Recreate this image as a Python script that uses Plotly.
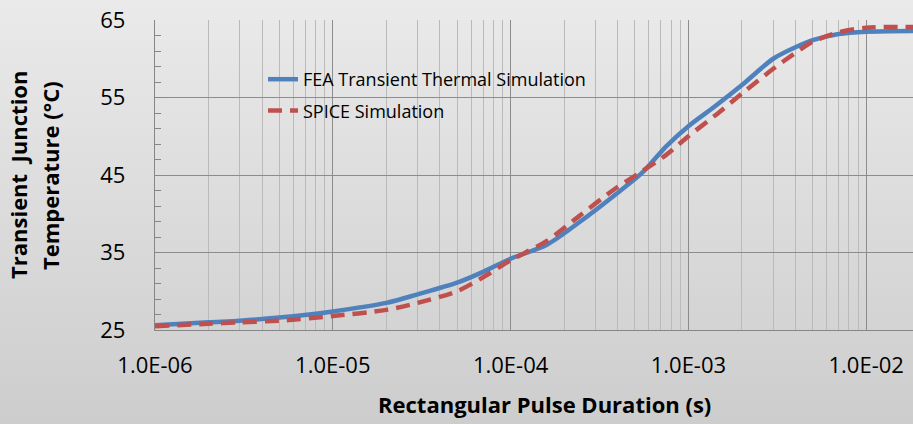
import plotly.graph_objects as go

# ---- data ----
pulse_s = [1e-6, 2e-6, 3e-6, 5e-6, 1e-5, 2e-5, 3e-5, 5e-5, 7e-5, 1e-4, 1.6e-4, 2.4e-4,
           3.8e-4, 5.5e-4, 7.5e-4, 1e-3, 1.4e-3, 2e-3, 3e-3, 4.2e-3, 5e-3, 7e-3, 1e-2, 2e-2]
fea_temp = [25.6, 26.0, 26.2, 26.6, 27.4, 28.5, 29.6, 31.1, 32.5, 34.2, 36.0, 38.8,
            42.3, 45.3, 48.7, 51.3, 53.8, 56.6, 60.0, 61.7, 62.4, 63.2, 63.5, 63.6]
spice_temp = [25.5, 25.8, 26.0, 26.2, 26.8, 27.6, 28.5, 30.0, 31.8, 34.0, 36.5, 39.6,
              43.1, 45.5, 47.6, 50.0, 52.6, 55.5, 58.7, 61.1, 62.2, 63.4, 64.0, 64.1]
x_tick_vals = [1e-6, 1e-5, 1e-4, 1e-3, 1e-2]
x_tick_text = ["1.0E-06", "1.0E-05", "1.0E-04", "1.0E-03", "1.0E-02"]
y_tick_vals = [25, 35, 45, 55, 65]

W, H = 913, 424
ML, MT, MB, MR = 155, 20, 94, 0
PW, PH = W - ML - MR, H - MT - MB
FONT = "Open Sans"

fig = go.Figure()
fig.add_trace(go.Scatter(
    x=pulse_s, y=fea_temp, mode="lines", name="FEA Transient Thermal Simulation",
    line=dict(color="#4F81BD", width=4.5, shape="spline", smoothing=0.8),
    legendgroup="a"))
fig.add_trace(go.Scatter(
    x=pulse_s, y=spice_temp, mode="lines", name="SPICE Simulation",
    line=dict(color="#C0504D", width=4.5, dash="14px,8px", shape="spline", smoothing=0.8),
    legendgroup="b"))

# vertical gradient background
shapes = []
n = 53
top = (234, 234, 234)
bot = (205, 205, 205)
y_top = 1 + MT / PH
y_bot = -MB / PH
for i in range(n):
    f = (i + 0.5) / n
    c = tuple(round(top[k] + (bot[k] - top[k]) * f) for k in range(3))
    y0 = y_top + (y_bot - y_top) * i / n
    y1 = y_top + (y_bot - y_top) * (i + 1) / n
    shapes.append(dict(type="rect", xref="paper", yref="paper",
                       x0=-ML / PW, x1=1 + 0.01, y0=y1 - 0.002, y1=y0 + 0.002,
                       fillcolor="rgb(%d,%d,%d)" % c, line=dict(width=0), layer="below"))

fig.update_layout(
    width=W, height=H,
    margin=dict(l=ML, r=MR, t=MT, b=MB),
    paper_bgcolor="rgb(234,234,234)",
    plot_bgcolor="rgba(0,0,0,0)",
    shapes=shapes,
    font=dict(family=FONT, color="#000000"),
    showlegend=True,
    legend=dict(x=(263 - ML) / PW, y=1 - (61 - MT) / PH, xanchor="left", yanchor="top",
                bgcolor="rgba(0,0,0,0)", font=dict(size=18, family=FONT, color="#000000"),
                tracegroupgap=5, itemwidth=30),
    xaxis=dict(
        type="log", range=[-6, -6 + PW / 177.8],
        tickmode="array", tickvals=x_tick_vals, ticktext=x_tick_text,
        tickfont=dict(size=22, family=FONT, color="#000000"),
        ticks="", ticklabelstandoff=15,
        showgrid=True, gridcolor="#8c8c8c", gridwidth=1.3,
        showline=True, linecolor="#868686", linewidth=1.3,
        minor=dict(dtick="D1", showgrid=True, gridcolor="#bababa", gridwidth=1.2, ticks=""),
        zeroline=False, fixedrange=True,
    ),
    yaxis=dict(
        range=[25, 65], tickmode="array", tickvals=y_tick_vals,
        tickfont=dict(size=22, family=FONT, color="#000000"),
        ticks="inside", ticklen=6, tickcolor="#868686", ticklabelstandoff=24,
        showgrid=True, gridcolor="#8c8c8c", gridwidth=1.3,
        showline=True, linecolor="#868686", linewidth=1.3,
        minor=dict(dtick=2, tick0=25, ticks="inside", ticklen=6, tickcolor="#868686", showgrid=False),
        zeroline=False, fixedrange=True,
    ),
    annotations=[
        dict(text="<b>Rectangular Pulse Duration (s)</b>", xref="paper", yref="paper",
             x=(544 - ML) / PW, y=-(404 - MT - PH) / PH, xanchor="center", yanchor="middle",
             showarrow=False, font=dict(size=22, family=FONT, color="#000000")),
        dict(text="<b>Transient&nbsp; Junction</b>", xref="paper", yref="paper",
             x=(18 - ML) / PW, y=0.5, xanchor="center", yanchor="middle", textangle=-90,
             showarrow=False, font=dict(size=22, family=FONT, color="#000000")),
        dict(text="<b>Temperature (°C)</b>", xref="paper", yref="paper",
             x=(50 - ML) / PW, y=0.5, xanchor="center", yanchor="middle", textangle=-90,
             showarrow=False, font=dict(size=22, family=FONT, color="#000000")),
    ],
)

fig.write_html("out.html")
